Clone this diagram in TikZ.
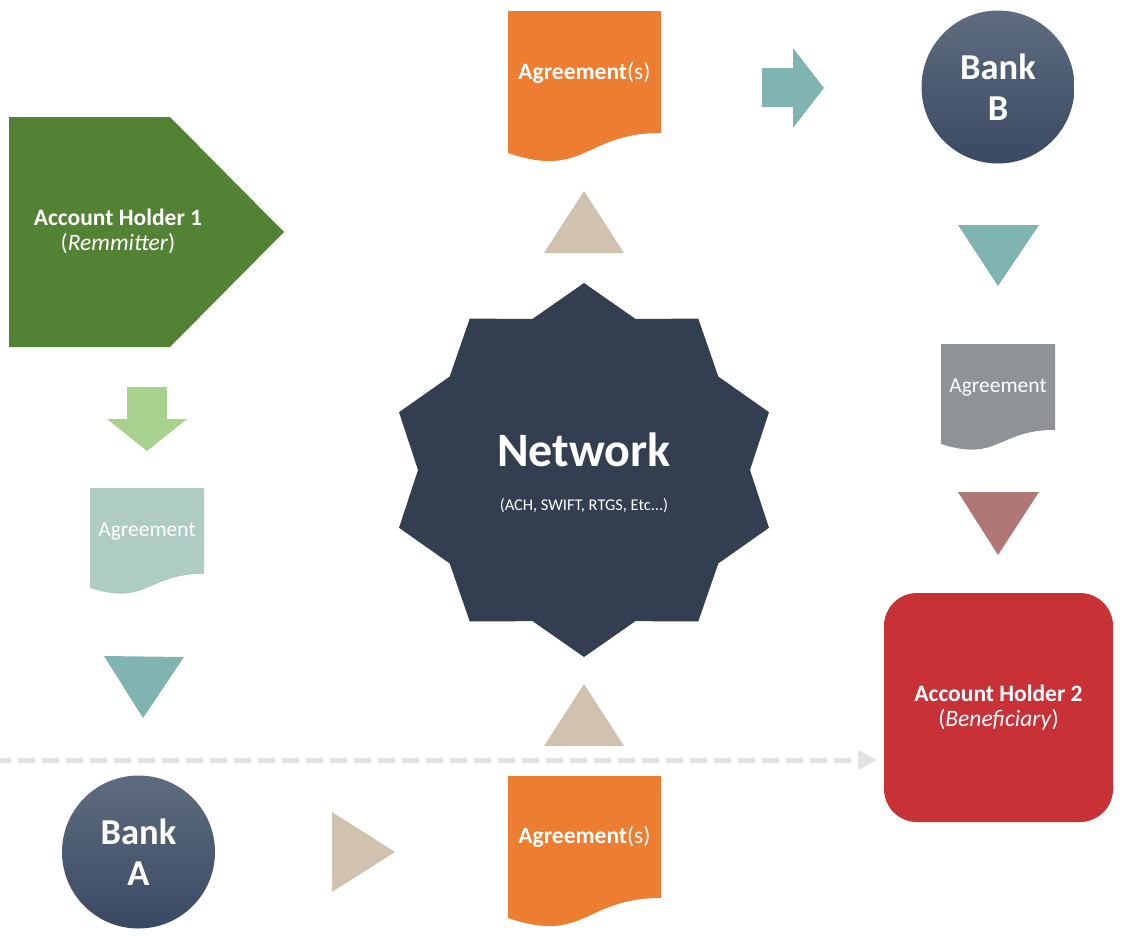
\documentclass[tikz,border=0pt]{standalone}
\usepackage{fontspec}
\setmainfont{Carlito}
\usetikzlibrary{arrows.meta}
\definecolor{ahgreen}{HTML}{548235}
\definecolor{lgreen}{HTML}{A9D18E}
\definecolor{paledoc}{HTML}{AECCC4}
\definecolor{cteal}{HTML}{80B4B1}
\definecolor{ctan}{HTML}{D1C1AF}
\definecolor{corange}{HTML}{ED7D31}
\definecolor{cnavy}{HTML}{333F50}
\definecolor{bktop}{HTML}{5F6C7F}
\definecolor{bkbot}{HTML}{3A4963}
\definecolor{cgrey}{HTML}{8F9396}
\definecolor{cmauve}{HTML}{AF7877}
\definecolor{cred}{HTML}{C83236}
\definecolor{cdash}{HTML}{E3E3E3}
% document shape: x, y, w, h
\newcommand\docpath[4]{(#1,#2) -- ({#1+#3},#2) -- ({#1+#3},{#2+0.802*#4})
  .. controls ({#1+#3/2},{#2+0.802*#4}) and ({#1+#3/2},{#2+1.107*#4}) .. (#1,{#2+0.934*#4}) -- cycle}
\tikzset{
  lbl/.style={text=white, align=center, inner sep=0pt},
  ahtext/.style={lbl, font=\fontsize{23.5}{25}\selectfont},
  doctext/.style={lbl, font=\fontsize{21.5}{25}\selectfont},
  docbtext/.style={lbl, font=\fontsize{23.5}{25}\selectfont},
  banknode/.style={circle, minimum size=153pt, inner sep=0pt, top color=bktop, bottom color=bkbot,
    text=white, align=center, font=\bfseries\fontsize{36.5}{41}\selectfont},
  dasharrow/.style={draw=cdash, line width=5pt, dash pattern=on 17pt off 7pt, dash phase=6pt,
    -{Triangle[length=19pt,width=20pt,fill=cdash,line width=0pt]}}
}
\begin{document}
\begin{tikzpicture}[x=1pt,y=-1pt]
\useasboundingbox (0,0) rectangle (1126,935);

% dashed arrow
\coordinate (dstart) at (0,760);
\coordinate (dend) at (877,760);
\draw[dasharrow] (dstart) -- (dend);

% Account holder 1 (pentagon)
\fill[ahgreen] (9,117) -- (170,117) -- (284,232) -- (170,347) -- (9,347) -- cycle;
\node[ahtext] (ah1) at (118,231) {\textbf{Account Holder 1}\\(\textit{Remmitter})};

% green down arrow
\fill[lgreen] (127,387) -- (167,387) -- (167,419) -- (187,419) -- (147,451) -- (107,419) -- (127,419) -- cycle;

% pale agreement doc
\fill[paledoc] \docpath{90}{488}{114}{107};
\node[doctext] (docL) at (147,531) {Agreement};

% teal down triangle (left)
\fill[cteal] (104,656) -- (184,657) -- (143,718) -- cycle;

% Bank A
\node[banknode] (bankA) at (138.5,852) {Bank\\A};

% tan right triangle
\fill[ctan] (332,812) -- (395,852) -- (332,892) -- cycle;

% bottom orange doc
\fill[corange] \docpath{508}{776}{153}{152};
\node[docbtext] (docB) at (584.5,837) {\textbf{Agreement}(s)};

% tan up triangle (bottom)
\fill[ctan] (544,746) -- (584,684) -- (624,746) -- cycle;

% network star (slightly wider than tall)
\coordinate (netc) at (584,470);
\fill[cnavy, shift={(netc)}] (90:194.5pt and 187pt)
  \foreach \i [evaluate=\i as \rx using {isodd(\i)?166:194.5},
               evaluate=\i as \ry using {isodd(\i)?159:187}] in {1,...,19}
  { -- ({90+18*\i}:{\rx*1pt} and {\ry*1pt}) } -- cycle;
\node[lbl, font=\bfseries\fontsize{48}{56}\selectfont] (net) at (584,450) {Network};
\node[lbl, font=\fontsize{16.4}{19}\selectfont] (netsub) at (584,506) {(ACH, SWIFT, RTGS, Etc...)};

% tan up triangle (top)
\fill[ctan] (544,253) -- (584,191) -- (624,253) -- cycle;

% top orange doc
\fill[corange] \docpath{508}{11}{153}{152};
\node[docbtext] (docT) at (584.5,73) {\textbf{Agreement}(s)};

% teal right arrow
\fill[cteal] (762,68) -- (793,68) -- (793,48) -- (824,88) -- (793,128) -- (793,107) -- (762,107) -- cycle;

% Bank B
\node[banknode] (bankB) at (998,87) {Bank\\B};

% teal down triangle (right)
\fill[cteal] (958,225) -- (1039,225) -- (998,286) -- cycle;

% grey agreement doc
\fill[cgrey] \docpath{941}{344}{114}{107};
\node[doctext] (docR) at (998,387) {Agreement};

% mauve down triangle
\fill[cmauve] (958,492) -- (1039,492) -- (998,555) -- cycle;

% Account holder 2
\node[fill=cred, rounded corners=33pt, minimum width=229pt, minimum height=229pt, inner sep=0pt] (ah2box) at (998.5,707.5) {};
\node[ahtext] (ah2) at (998.5,708) {\textbf{Account Holder 2}\\(\textit{Beneficiary})};
\end{tikzpicture}
\end{document}
